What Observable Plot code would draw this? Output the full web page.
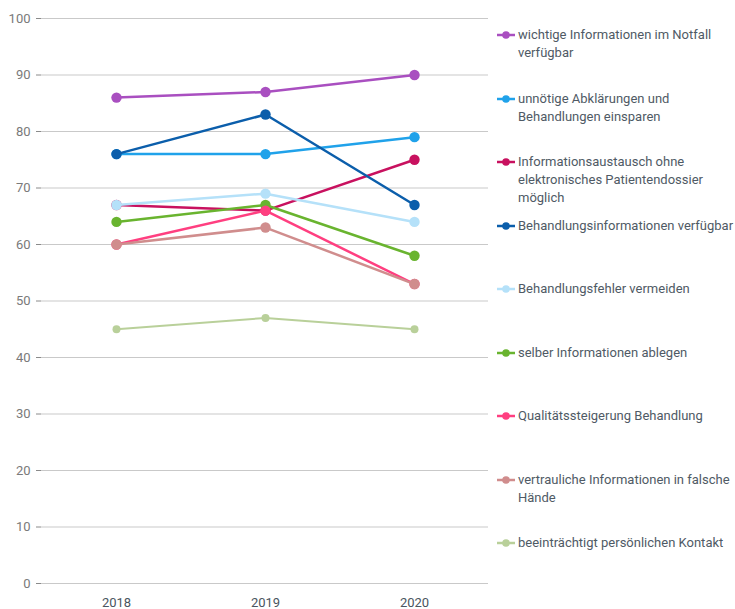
<!DOCTYPE html>
<html>
<head>
<meta charset="utf-8">
<script src="https://cdn.jsdelivr.net/npm/d3@7"></script>
<script src="https://cdn.jsdelivr.net/npm/@observablehq/plot@0.6"></script>
<style>
  html, body { margin: 0; padding: 0; background: #fff; }
  #wrap { position: relative; width: 735px; height: 609px; font-family: Roboto, "Open Sans", sans-serif; }
  #legend { position: absolute; left: 0; top: 0; }
  .item { position: absolute; left: 497px; width: 240px; display: flex; align-items: flex-start; font-size: 13px; line-height: 18px; color: #4f5a65; }
  .item svg { flex: none; margin-top: 4px; }
</style>
</head>
<body>
<div id="wrap"><div id="chart"></div><div id="legend"></div></div>
<script>
const years = ["2018", "2019", "2020"];
const seriesNames = [
  "wichtige Informationen im Notfall verfügbar",
  "unnötige Abklärungen und Behandlungen einsparen",
  "Informationsaustausch ohne elektronisches Patientendossier möglich",
  "Behandlungsinformationen verfügbar",
  "Behandlungsfehler vermeiden",
  "selber Informationen ablegen",
  "Qualitätssteigerung Behandlung",
  "vertrauliche Informationen in falsche Hände",
  "beeinträchtigt persönlichen Kontakt"
];
const wichtige = [86, 87, 90];
const unnoetige = [76, 76, 79];
const austausch = [67, 66, 75];
const behandlungsinfo = [76, 83, 67];
const fehler = [67, 69, 64];
const selber = [64, 67, 58];
const qualitaet = [60, 66, 53];
const vertraulich = [60, 63, 53];
const kontakt = [45, 47, 45];
const seriesValues = [wichtige, unnoetige, austausch, behandlungsinfo, fehler, selber, qualitaet, vertraulich, kontakt];
const colors = ["#a94fc0", "#20a2ea", "#c8115f", "#0b5eab", "#b5e1f9", "#69b42f", "#ff3f80", "#d08d8d", "#b9d09a"];
const yTicks = [0, 10, 20, 30, 40, 50, 60, 70, 80, 90, 100];

const data = [];
seriesNames.forEach((name, i) => {
  years.forEach((yr, j) => data.push({series: name, idx: i, year: yr, value: seriesValues[i][j]}));
});

const marks = [
  Plot.gridY(yTicks, {stroke: "#c9c9c9", strokeOpacity: 1, strokeWidth: 1}),
  Plot.ruleX([0], {frameAnchor: "left", stroke: "#8a8a8a"}),
  Plot.axisY(yTicks, {tickSize: 5, tickPadding: 6, stroke: "#8a8a8a", color: "#7a7a7a", fontSize: 13}),
  Plot.axisX({tickSize: 0, tickPadding: 14, color: "#4a5560", fontSize: 13})
];
seriesNames.forEach((name, i) => {
  const d = data.filter(r => r.idx === i);
  const small = i === 8;
  marks.push(Plot.line(d, {x: "year", y: "value", stroke: colors[i], strokeWidth: small ? 2 : 2.5}));
  marks.push(Plot.dot(d, {x: "year", y: "value", fill: colors[i], r: small ? 4 : 5.2, stroke: "none"}));
});

const chart = Plot.plot({
  width: 735,
  height: 609,
  marginLeft: 41,
  marginRight: 247,
  marginTop: 18,
  marginBottom: 26,
  style: {fontFamily: "Roboto, 'Open Sans', sans-serif", fontSize: "13px", background: "white"},
  x: {type: "point", domain: years, padding: 0.5, label: null},
  y: {domain: [0, 100], label: null},
  marks
});
document.getElementById("chart").appendChild(chart);

const legend = d3.select("#legend");
seriesNames.forEach((name, i) => {
  const item = legend.append("div").attr("class", "item").style("top", (35 + i * 63.5 - 9) + "px");
  const s = item.append("svg").attr("width", 21).attr("height", 10);
  s.append("line").attr("x1", 0).attr("x2", 18).attr("y1", 5).attr("y2", 5).attr("stroke", colors[i]).attr("stroke-width", 2.5);
  s.append("circle").attr("cx", 9).attr("cy", 5).attr("r", 3.8).attr("fill", colors[i]);
  item.append("span").text(name).style("width", "218px");
});
</script>
</body>
</html>
